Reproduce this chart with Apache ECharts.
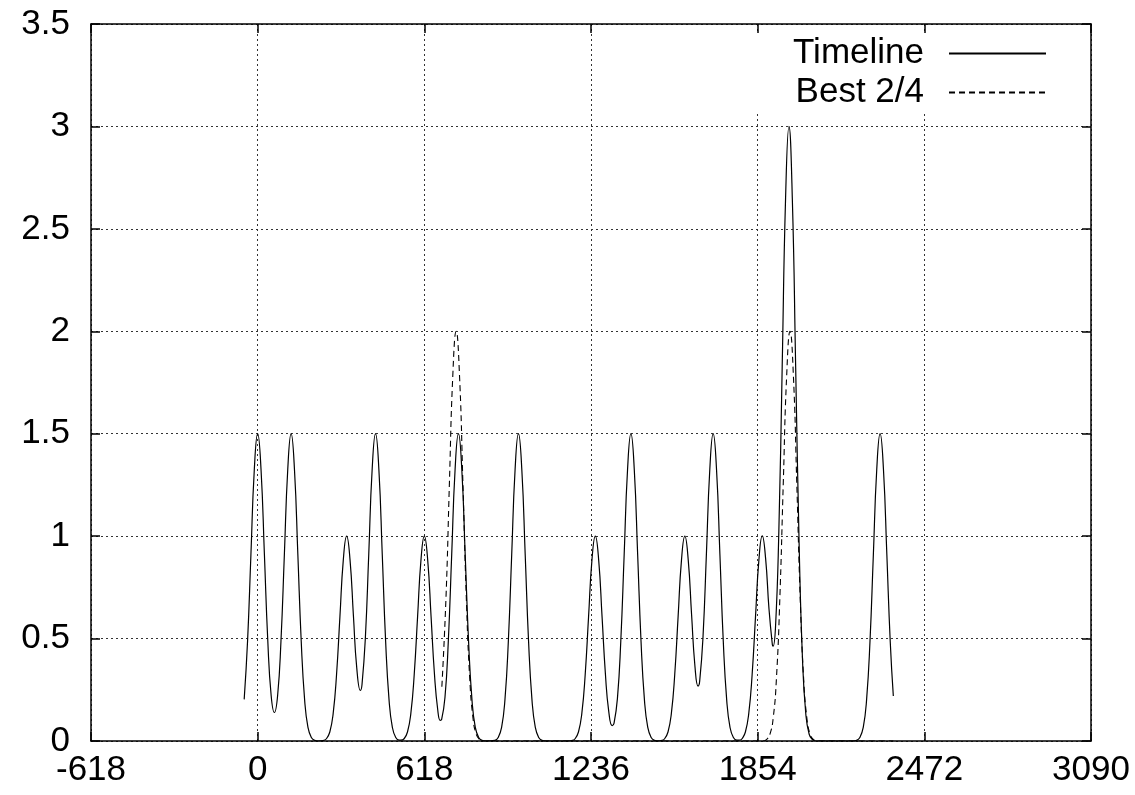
<!DOCTYPE html>
<html>
<head>
<meta charset="utf-8">
<script src="https://cdn.jsdelivr.net/npm/echarts@6/dist/echarts.min.js"></script>
<style>
html,body{margin:0;padding:0;background:#fff}
#chart{width:1135px;height:795px}
</style>
</head>
<body>
<div id="chart"></div>
<script>
// ---- data ----
const seriesNames = ['Timeline', 'Best 2/4'];

const timelineX = [
  -50, -37.5, -25, -12.5, 0, 12.5, 25, 37.5, 50, 62, 74, 86.5, 99, 111.5, 124, 136.5, 149, 161.5, 174, 186.5, 199, 211.5, 224,
  242.5, 255, 267.5, 280, 292.5, 305, 317.5, 330, 342.5, 355, 367.5, 381, 387, 399.5, 412, 424.5, 437, 449.5, 462, 474.5, 487, 499.5, 512, 524.5,
  530.5, 543, 555.5, 568, 580.5, 593, 605.5, 618, 630.5, 643, 655.5, 668, 677, 682, 694.5, 707, 719.5, 732, 744.5, 757, 769.5, 782, 794.5, 807, 819.5, 832, 844.5,
  879.5, 892, 904.5, 917, 929.5, 942, 954.5, 967, 979.5, 992, 1004.5, 1017, 1029.5, 1042, 1054.5, 1067,
  1152, 1164.5, 1177, 1189.5, 1202, 1214.5, 1227, 1239.5, 1252, 1264.5, 1277, 1289.5, 1302, 1314.5, 1321.5, 1334, 1346.5, 1359, 1371.5, 1384, 1396.5, 1409, 1421.5, 1434, 1446.5, 1459, 1471.5, 1484,
  1496.5, 1509, 1521.5, 1534, 1546.5, 1559, 1571.5, 1584, 1596.5, 1609, 1621.5, 1633, 1639, 1651.5, 1664, 1676.5, 1689, 1701.5, 1714, 1726.5, 1739, 1751.5, 1764, 1776.5, 1789,
  1796, 1808.5, 1821, 1833.5, 1846, 1858.5, 1871, 1883.5, 1896, 1908.5, 1911, 1920, 1932.5, 1945, 1957.5, 1970, 1982.5, 1995, 2007.5, 2020, 2032.5, 2045, 2057.5, 2070,
  2208, 2220.5, 2233, 2245.5, 2258, 2270.5, 2283, 2295.5, 2308, 2320.5, 2333, 2345.5, 2357
];
const timelineY = [
  0.203, 0.487, 0.910, 1.324, 1.5, 1.324, 0.910, 0.491, 0.222, 0.139, 0.222, 0.491, 0.910, 1.324, 1.5, 1.324, 0.910, 0.487, 0.203, 0.066, 0.017, 0.003, 0,
  0.002, 0.011, 0.044, 0.135, 0.325, 0.607, 0.883, 1.0, 0.884, 0.613, 0.356, 0.247, 0.277, 0.508, 0.914, 1.325, 1.5, 1.324, 0.910, 0.487, 0.203, 0.066, 0.017, 0.004,
  0.004, 0.011, 0.044, 0.135, 0.325, 0.607, 0.883, 1.0, 0.883, 0.607, 0.327, 0.149, 0.101, 0.104, 0.212, 0.489, 0.910, 1.324, 1.5, 1.324, 0.910, 0.487, 0.203, 0.066, 0.017, 0.003, 0,
  0.003, 0.017, 0.066, 0.203, 0.487, 0.910, 1.324, 1.5, 1.324, 0.910, 0.487, 0.203, 0.066, 0.017, 0.003, 0,
  0, 0.002, 0.011, 0.044, 0.135, 0.325, 0.607, 0.883, 1.0, 0.883, 0.607, 0.326, 0.142, 0.075, 0.087, 0.208, 0.488, 0.910, 1.324, 1.5, 1.324, 0.910, 0.487, 0.203, 0.066, 0.017, 0.003, 0,
  0.002, 0.011, 0.044, 0.135, 0.325, 0.607, 0.883, 1.0, 0.884, 0.616, 0.364, 0.268, 0.292, 0.513, 0.916, 1.325, 1.5, 1.324, 0.910, 0.487, 0.203, 0.066, 0.017, 0.004, 0.005,
  0.011, 0.044, 0.135, 0.325, 0.607, 0.883, 1.001, 0.890, 0.644, 0.470, 0.463, 0.552, 1.023, 1.832, 2.650, 3.0, 2.648, 1.820, 0.974, 0.406, 0.132, 0.033, 0.007, 0,
  0, 0.003, 0.017, 0.066, 0.203, 0.487, 0.910, 1.324, 1.5, 1.324, 0.910, 0.487, 0.22
];

const bestX = [
  683, 698.5, 711, 723.5, 736, 748.5, 761, 773.5, 786, 798.5, 811, 823.5, 836,
  1874, 1886.5, 1899, 1911.5, 1924, 1936.5, 1949, 1961.5, 1974, 1986.5, 1999, 2011.5, 2024, 2036.5, 2049, 2061.5, 2074, 2357
];
const bestY = [
  0.265, 0.707, 1.260, 1.782, 2.0, 1.782, 1.260, 0.707, 0.315, 0.111, 0.031, 0.007, 0,
  0, 0.007, 0.031, 0.111, 0.315, 0.707, 1.260, 1.782, 2.0, 1.782, 1.260, 0.707, 0.315, 0.111, 0.031, 0.007, 0, 0
];

const xMin = -618, xMax = 3090, xStep = 618;
const yMin = 0, yMax = 3.5, yStep = 0.5;

// ---- chart ----
const FONT = '"Liberation Sans", Arial, Helvetica, sans-serif';
const LABEL_SIZE = 35;
const zip = (xs, ys) => xs.map((x, i) => [x, ys[i]]);

const gridLine = { show: true, lineStyle: { color: '#333', width: 1, type: [2, 3] } };
const axisLine = { show: true, onZero: false, lineStyle: { color: '#000', width: 1.5 } };
const tick = { show: true, inside: true, length: 9, lineStyle: { color: '#000', width: 1.5 } };

const chart = echarts.init(document.getElementById('chart'), null, { renderer: 'canvas' });
chart.setOption({
  animation: false,
  backgroundColor: '#fff',
  grid: { left: 91, right: 44, top: 24, bottom: 54 },
  legend: {
    data: seriesNames,
    selectedMode: false,
    orient: 'vertical',
    align: 'right',
    right: 74,
    top: 33,
    padding: [3, 14, 2, 40],
    itemWidth: 97,
    itemHeight: 14,
    itemGap: 4,
    backgroundColor: '#fff',
    itemStyle: { opacity: 0 },
    textStyle: { fontFamily: FONT, fontSize: LABEL_SIZE, color: '#000', lineHeight: 34, padding: [0, 20, 0, 0] }
  },
  xAxis: [
    {
      type: 'value', min: xMin, max: xMax, interval: xStep, position: 'bottom',
      axisLine: axisLine, axisTick: tick, splitLine: gridLine,
      axisLabel: { color: '#000', fontFamily: FONT, fontSize: LABEL_SIZE, margin: 12, formatter: v => String(v) }
    },
    {
      type: 'value', min: xMin, max: xMax, interval: xStep, position: 'top',
      axisLine: axisLine, axisTick: tick, splitLine: { show: false }, axisLabel: { show: false }
    }
  ],
  yAxis: [
    {
      type: 'value', min: yMin, max: yMax, interval: yStep, position: 'left',
      axisLine: axisLine, axisTick: tick, splitLine: gridLine,
      axisLabel: { color: '#000', fontFamily: FONT, fontSize: LABEL_SIZE, margin: 21, formatter: v => String(v) }
    },
    {
      type: 'value', min: yMin, max: yMax, interval: yStep, position: 'right',
      axisLine: axisLine, axisTick: tick, splitLine: { show: false }, axisLabel: { show: false }
    }
  ],
  series: [
    {
      name: seriesNames[0], type: 'line', xAxisIndex: 0, yAxisIndex: 0,
      data: zip(timelineX, timelineY),
      symbol: 'none', showSymbol: false, smooth: 0.5,
      lineStyle: { color: '#000', width: 1.2, type: 'solid' },
      itemStyle: { color: '#000' }, z: 3
    },
    {
      name: seriesNames[1], type: 'line', xAxisIndex: 0, yAxisIndex: 0,
      data: zip(bestX, bestY),
      symbol: 'none', showSymbol: false, smooth: 0.5,
      lineStyle: { color: '#000', width: 1.1, type: [6, 4] },
      itemStyle: { color: '#000' }, z: 3
    }
  ]
});
</script>
</body>
</html>
